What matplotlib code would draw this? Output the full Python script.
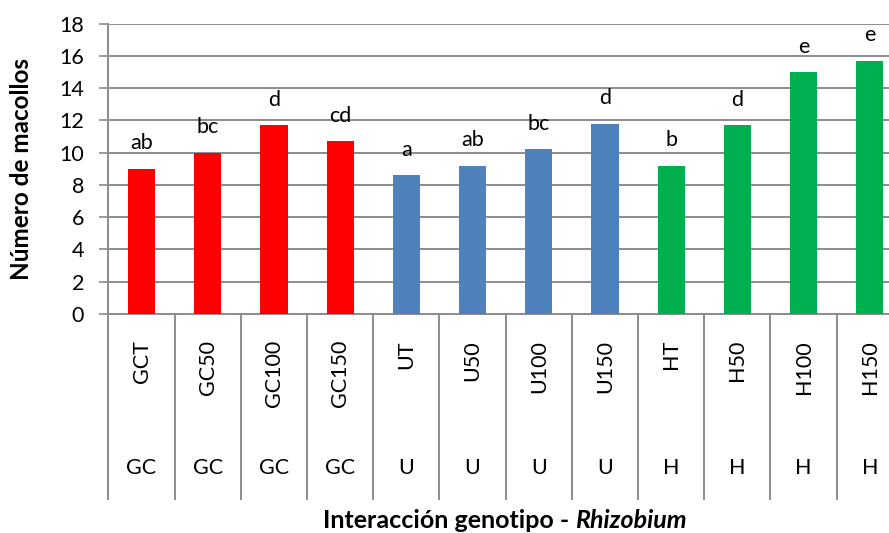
import matplotlib
matplotlib.use("Agg")
import matplotlib.pyplot as plt

# Number of tillers per genotype x Rhizobium treatment
treatments = ["GCT", "GC50", "GC100", "GC150", "UT", "U50", "U100", "U150",
              "HT", "H50", "H100", "H150"]
genotypes = ["GC", "GC", "GC", "GC", "U", "U", "U", "U", "H", "H", "H", "H"]
tillers = [9.0, 10.0, 11.7, 10.7, 8.6, 9.2, 10.2, 11.8, 9.2, 11.7, 15.0, 15.7]
letters = ["ab", "bc", "d", "cd", "a", "ab", "bc", "d", "b", "d", "e", "e"]
genotype_colors = {"GC": "#FF0000", "U": "#4F81BD", "H": "#00B050"}

plt.rcParams['font.family'] = ['Lato', 'DejaVu Sans']
grid_color = "#8C8C8C"

fig = plt.figure(figsize=(8.89, 5.33), dpi=100)
ax = fig.add_axes([0.122, 0.411, 0.8936, 0.5447])

x = list(range(len(treatments)))
colors = [genotype_colors[g] for g in genotypes]
ax.bar(x, tillers, width=0.41, color=colors, zorder=3)

# significance letters above each bar
for xi, val, lab in zip(x, tillers, letters):
    ax.annotate(lab, (xi, val), xytext=(0, 14), textcoords="offset points",
                ha="center", va="baseline", fontsize=15.5, zorder=4)

ax.set_xlim(-0.5, len(treatments) - 0.5)
ax.set_ylim(0, 18)
ax.set_yticks(range(0, 19, 2))
ax.yaxis.grid(True, color=grid_color, linewidth=1.4, zorder=0)
ax.tick_params(axis="y", direction="out", length=6.5, width=1.2,
               color=grid_color, labelsize=15.5, pad=11)
ax.tick_params(axis="x", length=0, labelbottom=False)

for side in ["top", "right"]:
    ax.spines[side].set_visible(False)
for side in ["left", "bottom"]:
    ax.spines[side].set_color(grid_color)
    ax.spines[side].set_linewidth(1.4)

# two-level category axis drawn below the plot
trans = ax.get_xaxis_transform()
for b in range(len(treatments) + 1):
    ax.plot([b - 0.5, b - 0.5], [0, -0.637], transform=trans, color=grid_color,
            linewidth=1.4, clip_on=False)
for xi, t, g in zip(x, treatments, genotypes):
    ax.text(xi, -0.09, t, transform=trans, rotation=90, ha="center", va="top",
            fontsize=15.5)
    ax.text(xi, -0.53, g, transform=trans, ha="center", va="center", fontsize=15.5)

ax.set_ylabel("Número de macollos", fontsize=17.5, fontweight="bold",
              va="center")
ax.yaxis.set_label_coords(-0.109, 0.5)

# x-axis title: bold text followed by bold italic genus name
title_y = 1 - 521 / 533
t1 = fig.text(0.363, title_y, "Interacción genotipo - ", ha="left",
              va="center", fontsize=18, fontweight="bold")
t2 = fig.text(0, title_y, "Rhizobium", fontsize=18, fontweight="bold",
              fontstyle="italic", ha="left", va="center")
fig.canvas.draw()
bb = t1.get_window_extent()
t2.set_position((bb.x1 / fig.bbox.width, title_y))

fig.savefig("out.png", dpi=100)
